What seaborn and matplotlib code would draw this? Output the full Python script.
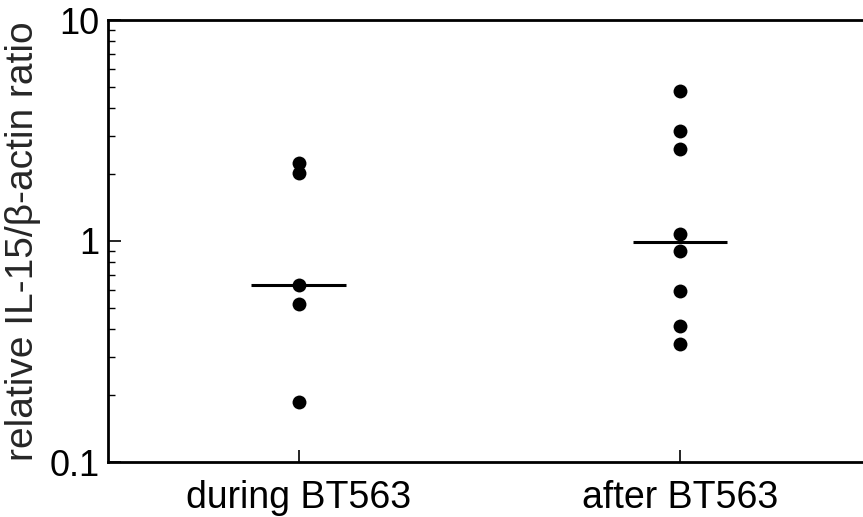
import numpy as np
import pandas as pd
import matplotlib
matplotlib.use("Agg")
import matplotlib.pyplot as plt
import seaborn as sns
from matplotlib.ticker import FixedLocator, LogLocator, NullFormatter

# ---- data ----
categories = ["during BT563", "after BT563"]
during_values = [2.25, 2.03, 0.63, 0.52, 0.187]
after_values = [4.79, 3.15, 2.60, 1.076, 0.904, 0.594, 0.414, 0.342]
y_ticks = [0.1, 1, 10]
y_tick_labels = ["0.1", "1", "10"]
y_label = "relative IL-15/\u03b2-actin ratio"

df = pd.DataFrame({
    "group": [categories[0]] * len(during_values) + [categories[1]] * len(after_values),
    "value": during_values + after_values,
})

sns.set_theme(style="white")
plt.rcParams["font.family"] = ["Liberation Sans", "DejaVu Sans"]

fig = plt.figure(figsize=(8.63, 5.17), dpi=100)
ax = fig.add_axes([108 / 863, 1 - 462 / 517, 1 - 108 / 863 + 0.002, (462 - 20) / 517])

sns.stripplot(data=df, x="group", y="value", order=categories, jitter=False,
              color="black", size=10, linewidth=0, ax=ax)
ax.set_yscale("log")

# median lines
for i, vals in enumerate([during_values, after_values]):
    m = np.median(vals)
    ax.hlines(m, i - 0.124, i + 0.124, color="black", linewidth=2.2)

ax.set_xlim(-0.5, 1.485)
ax.set_ylim(0.1, 10)

ax.yaxis.set_major_locator(FixedLocator(y_ticks))
ax.set_yticklabels(y_tick_labels)
ax.yaxis.set_minor_locator(LogLocator(base=10, subs=np.arange(2, 10)))
ax.yaxis.set_minor_formatter(NullFormatter())

ax.tick_params(axis="y", which="major", direction="in", length=9, width=1.2,
               labelsize=26, pad=6, left=True, colors="black")
ax.tick_params(axis="y", which="minor", direction="in", length=5, width=1.0,
               left=True, colors="black")
ax.tick_params(axis="x", which="major", direction="in", length=9, width=1.2,
               labelsize=27, pad=13, bottom=True, colors="black")

ax.set_xlabel("")
ax.set_ylabel(y_label, fontsize=28, labelpad=6)

for side in ["left", "bottom", "top"]:
    ax.spines[side].set_visible(True)
    ax.spines[side].set_color("black")
    ax.spines[side].set_linewidth(2)
ax.spines["right"].set_visible(False)
ax.grid(False)

fig.savefig("out.png", dpi=100, facecolor="white")
